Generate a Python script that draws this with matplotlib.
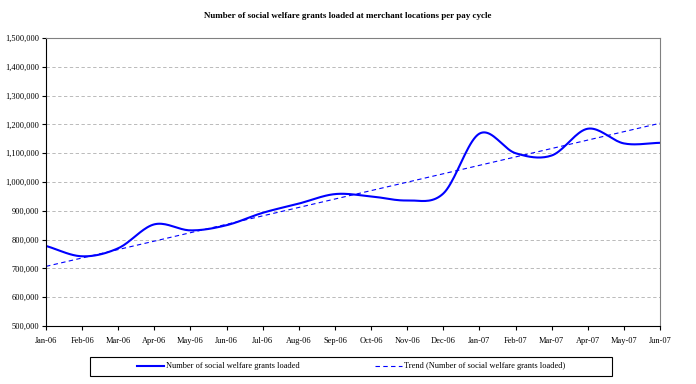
import numpy as np
import matplotlib.pyplot as plt
from matplotlib.patches import Rectangle
from matplotlib.ticker import FuncFormatter

months = ["Jan-06", "Feb-06", "Mar-06", "Apr-06", "May-06", "Jun-06", "Jul-06",
          "Aug-06", "Sep-06", "Oct-06", "Nov-06", "Dec-06", "Jan-07", "Feb-07",
          "Mar-07", "Apr-07", "May-07", "Jun-07"]
grants = [778000, 742000, 770000, 853000, 832000, 850000, 893000, 925000, 958000,
          950000, 936000, 960000, 1168000, 1100000, 1092000, 1185000, 1134000, 1136000]
# trend line end values (Jan-06, Jun-07)
trend = [707000, 1204000]

plt.rcParams['font.family'] = ['Liberation Serif', 'DejaVu Serif']


# smooth the line like a spreadsheet "smoothed line" (Catmull-Rom)
def smooth(x, y, n=20):
    x = np.asarray(x, float)
    y = np.asarray(y, float)
    px = np.concatenate([[2 * x[0] - x[1]], x, [2 * x[-1] - x[-2]]])
    py = np.concatenate([[2 * y[0] - y[1]], y, [2 * y[-1] - y[-2]]])
    xs, ys = [], []
    t = np.linspace(0, 1, n, endpoint=False)
    for i in range(1, len(px) - 2):
        for arr, out in ((px, xs), (py, ys)):
            p0, p1, p2, p3 = arr[i - 1], arr[i], arr[i + 1], arr[i + 2]
            out.extend(0.5 * (2 * p1 + (-p0 + p2) * t + (2 * p0 - 5 * p1 + 4 * p2 - p3) * t ** 2
                              + (-p0 + 3 * p1 - 3 * p2 + p3) * t ** 3))
    xs.append(x[-1])
    ys.append(y[-1])
    return np.array(xs), np.array(ys)


x = np.arange(len(months))
sx, sy = smooth(x, grants)

fig = plt.figure(figsize=(6.96, 3.84), dpi=100)
ax = fig.add_axes([46 / 696, 1 - 326 / 384, 614 / 696, 288 / 384])

ax.plot(sx, sy, color="#0000FF", lw=1.5, label="Number of social welfare grants loaded")
ax.plot([x[0], x[-1]], trend, color="#0000FF", lw=0.8, ls=(0, (4, 3)),
        label="Trend (Number of social welfare grants loaded)")

ax.set_xlim(0, len(months) - 1)
ax.set_ylim(500000, 1500000)
ax.set_xticks(x)
ax.set_xticklabels(months, fontsize=6)
ax.set_yticks(np.arange(500000, 1500001, 100000))
ax.yaxis.set_major_formatter(FuncFormatter(lambda v, p: f"{int(v):,}"))
ax.tick_params(axis="y", labelsize=6, length=3, direction="out", pad=2)
ax.tick_params(axis="x", length=3, direction="out", pad=5)
ax.grid(axis="y", color="#b0b0b0", ls=(0, (4, 3)), lw=0.6)
for s in ("top", "right"):
    ax.spines[s].set_color("#808080")
for s in ("left", "bottom"):
    ax.spines[s].set_color("black")

fig.text(0.5, 1 - 16 / 384, "Number of social welfare grants loaded at merchant locations per pay cycle",
         ha="center", va="center", fontsize=6.5, fontweight="bold")

# legend box
fig.add_artist(Rectangle((90 / 696, 1 - 376 / 384), 522 / 696, 19 / 384, transform=fig.transFigure,
                         fill=False, edgecolor="black", lw=0.8))
fig.legend(loc="center", bbox_to_anchor=(351 / 696, 1 - 366.5 / 384), ncol=2, fontsize=6,
           frameon=False, handlelength=3.3, handletextpad=0.2, columnspacing=9)

fig.savefig("out.png", dpi=100)
